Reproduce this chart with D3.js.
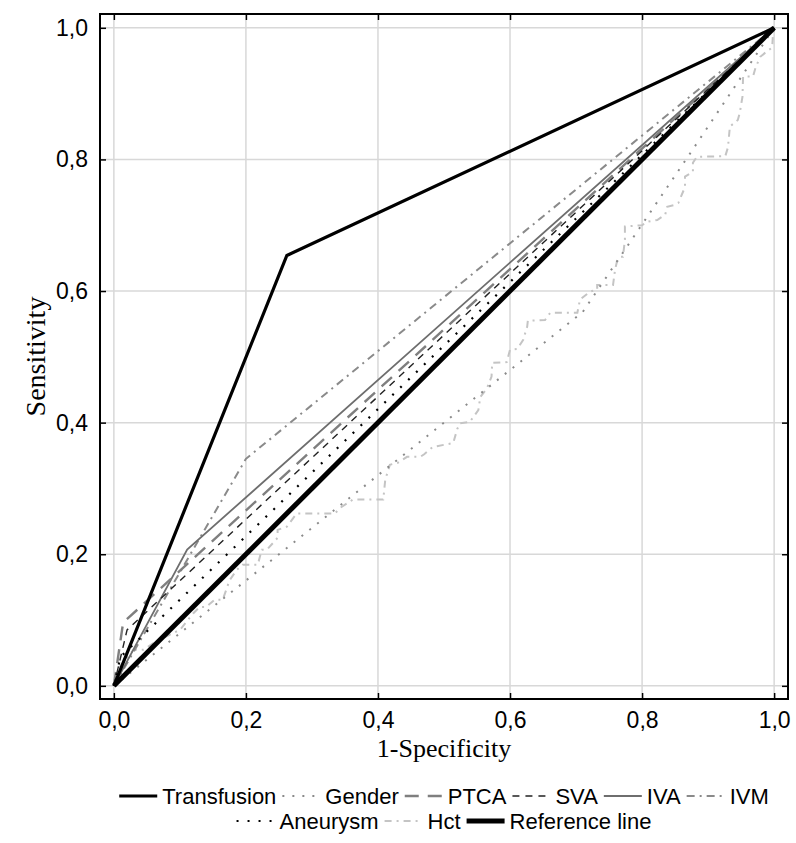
<!DOCTYPE html>
<html>
<head>
<meta charset="utf-8">
<script src="https://cdn.jsdelivr.net/npm/d3@7"></script>
<style>
  body { margin: 0; background: #fff; }
  svg { display: block; }
</style>
</head>
<body>
<svg id="roc" width="796" height="843"></svg>
<script>
// tick values of both axes
const ticks = [0, 0.2, 0.4, 0.6, 0.8, 1.0];

// ROC curves, [1-specificity, sensitivity] pairs
const transfusion = [[0, 0], [0.262, 0.654], [1, 1]];
const gender = [[0, 0], [0.71, 0.568], [0.87, 0.805], [1, 1]];
const ptca = [[0, 0], [0.014, 0.096], [1, 1]];
const sva = [[0, 0], [0.02, 0.085], [1, 1]];
const iva = [[0, 0], [0.111, 0.207], [1, 1]];
const ivm = [[0, 0], [0.2, 0.345], [1, 1]];
const aneurysm = [[0, 0], [0.01, 0.044], [1, 1]];
const hct = [
  [0, 0], [0.01, 0.03], [0.03, 0.055], [0.045, 0.055], [0.06, 0.065], [0.085, 0.078],
  [0.1, 0.085], [0.12, 0.11], [0.13, 0.12], [0.14, 0.12], [0.153, 0.131], [0.165, 0.131],
  [0.175, 0.16], [0.186, 0.176], [0.195, 0.184], [0.218, 0.184], [0.224, 0.207], [0.232, 0.207],
  [0.248, 0.225], [0.248, 0.237], [0.262, 0.242], [0.277, 0.262], [0.335, 0.262], [0.342, 0.27],
  [0.362, 0.283], [0.408, 0.283], [0.411, 0.313], [0.418, 0.336], [0.43, 0.339], [0.444, 0.348],
  [0.464, 0.348], [0.47, 0.352], [0.483, 0.363], [0.514, 0.369], [0.52, 0.39], [0.524, 0.399],
  [0.539, 0.401], [0.552, 0.419], [0.555, 0.439], [0.565, 0.452], [0.572, 0.47], [0.573, 0.491],
  [0.595, 0.492], [0.6, 0.511], [0.611, 0.512], [0.62, 0.526], [0.626, 0.546], [0.627, 0.555],
  [0.653, 0.556], [0.661, 0.567], [0.702, 0.567], [0.706, 0.587], [0.721, 0.599], [0.732, 0.602],
  [0.732, 0.609], [0.756, 0.609], [0.759, 0.632], [0.762, 0.645], [0.767, 0.652], [0.771, 0.652],
  [0.774, 0.678], [0.774, 0.698], [0.8, 0.7], [0.807, 0.705], [0.823, 0.708], [0.835, 0.716],
  [0.838, 0.728], [0.85, 0.731], [0.855, 0.734], [0.865, 0.758], [0.865, 0.774], [0.877, 0.781],
  [0.877, 0.795], [0.883, 0.804], [0.926, 0.805], [0.93, 0.818], [0.933, 0.85], [0.945, 0.86],
  [0.948, 0.871], [0.952, 0.895], [0.953, 0.926], [0.968, 0.926], [0.972, 0.94], [0.979, 0.956],
  [0.99, 0.965], [0.997, 0.97], [0.998, 0.986], [1, 1]
];
const reference = [[0, 0], [1, 1]];

const legendRows = [
  ["Transfusion", "Gender", "PTCA", "SVA", "IVA", "IVM"],
  ["Aneurysm", "Hct", "Reference line"]
];

const series = new Map([
  ["Transfusion", transfusion], ["Gender", gender], ["PTCA", ptca], ["SVA", sva],
  ["IVA", iva], ["IVM", ivm], ["Aneurysm", aneurysm], ["Hct", hct], ["Reference line", reference]
]);

// line look per series
const styles = {
  "Transfusion":    {color: "#000", width: 3.2, dash: null},
  "Gender":         {color: "#8a8a8a", width: 2, dash: "2,8"},
  "PTCA":           {color: "#7f7f7f", width: 2.4, dash: "14,9"},
  "SVA":            {color: "#222", width: 1.4, dash: "7,6"},
  "IVA":            {color: "#6e6e6e", width: 1.8, dash: null},
  "IVM":            {color: "#8a8a8a", width: 2, dash: "8,5,2,5"},
  "Aneurysm":       {color: "#000", width: 2.2, dash: "2,9"},
  "Hct":            {color: "#c4c4c4", width: 2, dash: "7,5,2,5"},
  "Reference line": {color: "#000", width: 5, dash: null}
};

const svg = d3.select("#roc");
const frame = {left: 100, right: 788, top: 14, bottom: 699};

const x = d3.scaleLinear().domain([-0.021, 1.021]).range([frame.left, frame.right]);
const y = d3.scaleLinear().domain([-0.02, 1.021]).range([frame.bottom, frame.top]);
const fmt = d => d3.format(".1f")(d).replace(".", ",");

// grid
svg.append("g")
  .selectAll("line.vx")
  .data(ticks)
  .enter()
  .append("line")
    .attr("x1", d => x(d)).attr("x2", d => x(d))
    .attr("y1", frame.top).attr("y2", frame.bottom)
    .attr("stroke", "#d8d8d8").attr("stroke-width", 1.5);
svg.append("g")
  .selectAll("line.hy")
  .data(ticks)
  .enter()
  .append("line")
    .attr("y1", d => y(d)).attr("y2", d => y(d))
    .attr("x1", frame.left).attr("x2", frame.right)
    .attr("stroke", "#d8d8d8").attr("stroke-width", 1.5);

// curves
const line = d3.line().x(d => x(d[0])).y(d => y(d[1]));
const order = ["Hct", "Gender", "IVM", "IVA", "PTCA", "SVA", "Aneurysm", "Reference line", "Transfusion"];
svg.append("g")
  .selectAll("path")
  .data(order)
  .enter()
  .append("path")
    .attr("d", d => line(series.get(d)))
    .attr("fill", "none")
    .attr("stroke", d => styles[d].color)
    .attr("stroke-width", d => styles[d].width)
    .attr("stroke-dasharray", d => styles[d].dash)
    .attr("stroke-linejoin", "miter");

// axes with inward ticks on all sides
const tickFont = "Liberation Sans, Arial, sans-serif";
svg.append("g")
  .attr("transform", `translate(0,${frame.bottom})`)
  .call(d3.axisBottom(x).tickValues(ticks).tickSize(-6).tickPadding(13).tickFormat(fmt))
  .call(g => g.select(".domain").remove());
svg.append("g")
  .attr("transform", `translate(${frame.left},0)`)
  .call(d3.axisLeft(y).tickValues(ticks).tickSize(-6).tickPadding(12).tickFormat(fmt))
  .call(g => g.select(".domain").remove());
svg.append("g")
  .attr("transform", `translate(0,${frame.top})`)
  .call(d3.axisTop(x).tickValues(ticks).tickSize(-6).tickFormat(""))
  .call(g => g.select(".domain").remove());
svg.append("g")
  .attr("transform", `translate(${frame.right},0)`)
  .call(d3.axisRight(y).tickValues(ticks).tickSize(-6).tickFormat(""))
  .call(g => g.select(".domain").remove());

svg.selectAll(".tick line").attr("stroke", "#000").attr("stroke-width", 1.5);
svg.selectAll(".tick text")
  .attr("fill", "#000")
  .style("font-family", tickFont)
  .style("font-size", "23px");

svg.append("rect")
  .attr("x", frame.left).attr("y", frame.top)
  .attr("width", frame.right - frame.left).attr("height", frame.bottom - frame.top)
  .attr("fill", "none").attr("stroke", "#000").attr("stroke-width", 2);

// axis titles
svg.append("text")
  .attr("x", (frame.left + frame.right) / 2).attr("y", 757)
  .attr("text-anchor", "middle")
  .style("font-family", "Liberation Serif, Times New Roman, serif")
  .style("font-size", "26px")
  .text("1-Specificity");
svg.append("text")
  .attr("transform", `translate(45,${(frame.top + frame.bottom) / 2}) rotate(-90)`)
  .attr("text-anchor", "middle")
  .style("font-family", "Liberation Serif, Times New Roman, serif")
  .style("font-size", "28px")
  .text("Sensitivity");

// legend, two centred rows
const sampleW = 38, gapIn = 5, gapOut = 6;
const rowY = [796, 821];
legendRows.forEach(function(row, r) {
  const g = svg.append("g");
  let cx = 0;
  row.forEach(function(name) {
    const st = styles[name];
    g.append("line")
      .attr("x1", cx).attr("x2", cx + sampleW)
      .attr("y1", 0).attr("y2", 0)
      .attr("stroke", st.color)
      .attr("stroke-width", st.width)
      .attr("stroke-dasharray", st.dash);
    cx += sampleW + gapIn;
    const t = g.append("text")
      .attr("x", cx).attr("y", 8)
      .style("font-family", tickFont)
      .style("font-size", "22px")
      .text(name);
    cx += t.node().getComputedTextLength() + gapOut;
  });
  cx -= gapOut;
  g.attr("transform", `translate(${(frame.left + frame.right) / 2 - cx / 2},${rowY[r]})`);
});
</script>
</body>
</html>
